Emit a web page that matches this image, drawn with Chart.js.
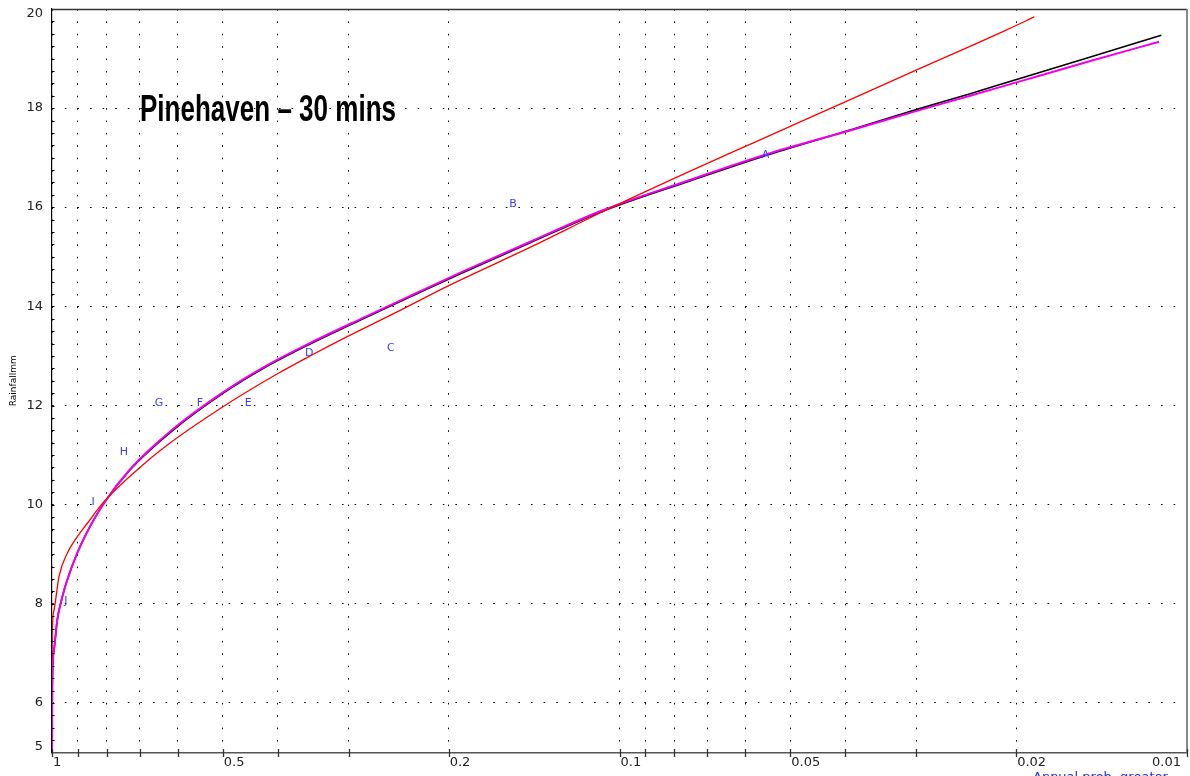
<!DOCTYPE html>
<html>
<head>
<meta charset="utf-8">
<script src="https://cdn.jsdelivr.net/npm/chart.js@4.4.1/dist/chart.umd.min.js"></script>
<style>
  html, body { margin: 0; padding: 0; background: #fff; }
  canvas { display: block; }
</style>
</head>
<body>
<canvas id="chart" width="1190" height="776"></canvas>
<script>
// observed maxima, lettered by rank
const obsLetters = ['A', 'B', 'C', 'D', 'E', 'F', 'G', 'H', 'I', 'J'];
const obsProb = [0.0553, 0.154, 0.253, 0.352, 0.451, 0.549, 0.648, 0.747, 0.846, 0.945];
const obsRain = [17.0, 16.0, 13.1, 13.0, 12.0, 12.0, 12.0, 11.0, 10.0, 8.0];

// fitted curves
const blackProb = [0.9998, 0.9988, 0.992, 0.979, 0.959, 0.940, 0.903, 0.867, 0.810, 0.729, 0.611, 0.499, 0.424, 0.351, 0.283, 0.231, 0.189, 0.144, 0.107, 0.0761, 0.0550, 0.0387, 0.0296, 0.0241, 0.0197, 0.0148, 0.0111];
const blackRain = [4.9, 6.33, 7.07, 7.67, 8.14, 8.48, 9.02, 9.45, 10.03, 10.70, 11.51, 12.25, 12.75, 13.24, 13.75, 14.22, 14.68, 15.28, 15.92, 16.51, 17.05, 17.58, 17.99, 18.29, 18.60, 19.03, 19.47];

const magentaProb = [0.9998, 0.9988, 0.992, 0.979, 0.959, 0.940, 0.903, 0.867, 0.810, 0.729, 0.611, 0.499, 0.424, 0.351, 0.283, 0.231, 0.189, 0.144, 0.107, 0.0761, 0.0550, 0.0387, 0.0296, 0.0241, 0.0197, 0.0148, 0.0112];
const magentaRain = [4.9, 6.33, 7.07, 7.67, 8.14, 8.48, 9.02, 9.45, 10.03, 10.71, 11.53, 12.27, 12.77, 13.26, 13.77, 14.24, 14.70, 15.30, 15.94, 16.53, 17.07, 17.57, 17.96, 18.25, 18.54, 18.95, 19.34];

const redProb = [0.9997, 0.999, 0.992, 0.972, 0.940, 0.903, 0.867, 0.810, 0.717, 0.637, 0.499, 0.402, 0.351, 0.3025, 0.247, 0.2016, 0.1438, 0.1053, 0.0761, 0.0581, 0.0420, 0.02995, 0.02078, 0.01858];
const redRain = [6.85, 7.4, 7.87, 8.55, 9.02, 9.35, 9.62, 10.06, 10.645, 11.14, 11.98, 12.63, 13.00, 13.385, 13.885, 14.40, 15.19, 15.95, 16.70, 17.30, 18.02, 18.77, 19.58, 19.84];

// axis ticks
const xTickValues = [1, 0.9, 0.8, 0.7, 0.6, 0.5, 0.4, 0.3, 0.2, 0.1, 0.09, 0.08, 0.07, 0.06, 0.05, 0.04, 0.03, 0.02, 0.01];
const xTickLabels = ['1', '', '', '', '', '0.5', '', '', '0.2', '0.1', '', '', '', '', '0.05', '', '', '0.02', '0.01'];
const yTickValues = [5, 6, 8, 10, 12, 14, 16, 18, 20];

const FONT = '"DejaVu Sans", Verdana, sans-serif';

function pts(px, py) {
    return px.map((p, i) => ({ x: p, y: py[i] }));
}

const decor = {
    id: 'decor',
    beforeDraw(chart) {
        const ctx = chart.ctx;
        ctx.save();
        ctx.fillStyle = '#fff';
        ctx.fillRect(0, 0, chart.width, chart.height);
        ctx.restore();
    },
    afterDatasetsDraw(chart) {
        const ctx = chart.ctx;
        const meta = chart.getDatasetMeta(0);
        ctx.save();
        ctx.font = '11px ' + FONT;
        ctx.fillStyle = '#3c3cff';
        ctx.textAlign = 'center';
        ctx.textBaseline = 'alphabetic';
        meta.data.forEach((el, i) => ctx.fillText(obsLetters[i], el.x, el.y));
        ctx.restore();
    },
    afterDraw(chart) {
        const { ctx, chartArea: a } = chart;
        const x = chart.scales.x, y = chart.scales.y;
        ctx.save();

        // top and right frame
        ctx.strokeStyle = '#333';
        ctx.lineWidth = 1.3;
        ctx.beginPath();
        ctx.moveTo(a.left, a.top + 0.5);
        ctx.lineTo(a.right, a.top + 0.5);
        ctx.stroke();
        ctx.strokeStyle = '#888';
        ctx.lineWidth = 2;
        ctx.beginPath();
        ctx.moveTo(a.right, a.top);
        ctx.lineTo(a.right, a.bottom);
        ctx.stroke();

        // minor ticks on the left spine
        ctx.strokeStyle = '#000';
        ctx.lineWidth = 1;
        ctx.beginPath();
        for (let v = 5.25; v < 20; v += 0.25) {
            const py = Math.round(y.getPixelForValue(v)) + 0.5;
            ctx.moveTo(a.left, py);
            ctx.lineTo(a.left + 2.5, py);
        }
        ctx.stroke();

        // tick marks across the x axis
        ctx.strokeStyle = '#333';
        ctx.lineWidth = 1.3;
        ctx.beginPath();
        xTickValues.forEach(v => {
            const px = Math.round(x.getPixelForValue(v)) + 0.5;
            ctx.moveTo(px, a.bottom - 3.5);
            ctx.lineTo(px, a.bottom + 4.5);
        });
        ctx.stroke();

        // tick labels
        ctx.font = '13px ' + FONT;
        ctx.fillStyle = '#222';
        ctx.textBaseline = 'alphabetic';
        ctx.textAlign = 'right';
        yTickValues.forEach(v => {
            const py = y.getPixelForValue(v);
            const base = Math.min(Math.max(py + 3.2, a.top + 8.2), a.bottom - 2.8);
            ctx.fillText(String(v), a.left - 9, base);
        });
        xTickValues.forEach((v, i) => {
            const txt = xTickLabels[i];
            if (!txt) return;
            const px = x.getPixelForValue(v);
            const w = ctx.measureText(txt).width;
            if (px + w > a.right) {
                ctx.textAlign = 'right';
                ctx.fillText(txt, a.right - 6, a.bottom + 13);
            } else {
                ctx.textAlign = 'left';
                ctx.fillText(txt, px + 1, a.bottom + 13);
            }
        });

        // x axis title, cut by the window edge
        ctx.fillStyle = '#2828ff';
        ctx.textAlign = 'left';
        ctx.fillText('Annual prob. greater', 1033, 780.5);

        // chart title
        const t = 'Pinehaven \u2013 30 mins';
        ctx.font = 'bold 36px "Liberation Sans Narrow", "Liberation Sans", Arial, sans-serif';
        ctx.fillStyle = '#000';
        const tw = ctx.measureText(t).width;
        ctx.translate(140, 121);
        ctx.scale(256 / tw, 1);
        ctx.fillText(t, 0, 0);
        ctx.restore();
    }
};

new Chart(document.getElementById('chart'), {
    type: 'line',
    data: {
        datasets: [
            {
                label: 'Observed',
                data: pts(obsProb, obsRain),
                showLine: false,
                pointRadius: 0,
                order: 0
            },
            {
                label: 'Fit 1',
                data: pts(redProb, redRain),
                borderColor: '#ff0000',
                borderWidth: 1.3,
                pointRadius: 0,
                cubicInterpolationMode: 'monotone',
                order: 1
            },
            {
                label: 'Fit 2',
                data: pts(magentaProb, magentaRain),
                borderColor: '#ee00ee',
                borderWidth: 2,
                pointRadius: 0,
                cubicInterpolationMode: 'monotone',
                order: 2
            },
            {
                label: 'Fit 3',
                data: pts(blackProb, blackRain),
                borderColor: '#000000',
                borderWidth: 1.6,
                pointRadius: 0,
                cubicInterpolationMode: 'monotone',
                order: 3
            }
        ]
    },
    options: {
        responsive: false,
        animation: false,
        devicePixelRatio: 1,
        layout: { padding: { top: 9, right: 3, left: 0, bottom: 0 } },
        plugins: {
            legend: { display: false },
            tooltip: { enabled: false }
        },
        scales: {
            x: {
                type: 'logarithmic',
                reverse: true,
                min: 0.01,
                max: 1,
                afterBuildTicks: s => { s.ticks = xTickValues.map(v => ({ value: v })); },
                afterFit: s => { s.height = 23.5; },
                ticks: { display: false },
                grid: { color: '#000', lineWidth: 1, drawTicks: false },
                border: { display: true, color: '#555', width: 1.5, dash: [1.6, 10.79] }
            },
            y: {
                type: 'linear',
                min: 5,
                max: 20,
                afterBuildTicks: s => { s.ticks = yTickValues.map(v => ({ value: v })); },
                afterFit: s => { s.width = 52; },
                ticks: { display: false },
                grid: { color: '#000', lineWidth: 1, drawTicks: false },
                border: { display: true, color: '#000', width: 1.2, dash: [1.6, 11] },
                title: {
                    display: true,
                    text: 'Rainfallmm',
                    color: '#000',
                    font: { family: FONT, size: 9 },
                    padding: { top: 8.6, bottom: 0 }
                }
            }
        }
    },
    plugins: [decor]
});
</script>
</body>
</html>
